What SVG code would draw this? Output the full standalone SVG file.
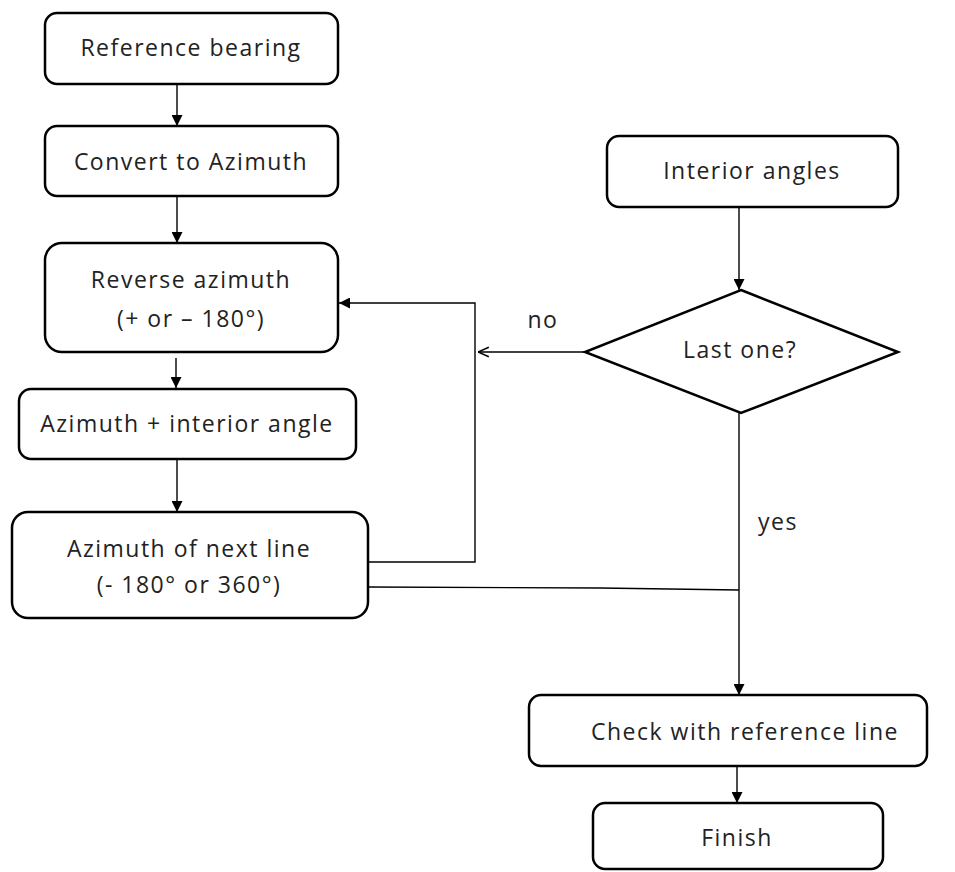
<svg xmlns="http://www.w3.org/2000/svg" width="955" height="872" viewBox="0 0 955 872">
<style>
.box{fill:#fff;stroke:#000;stroke-width:2.5}
.t{font-family:"Open Sans","Liberation Sans",sans-serif;font-size:23px;letter-spacing:1.5px;fill:#222;text-anchor:middle}
.c{fill:none;stroke:#000;stroke-width:1.4}
</style>
<defs>
<marker id="a" viewBox="0 0 10 10" refX="10" refY="5" markerWidth="11" markerHeight="11" markerUnits="userSpaceOnUse" orient="auto"><path d="M0,0L10,5L0,10z" fill="#000"/></marker>
<marker id="o" viewBox="0 0 10 10" refX="10" refY="5" markerWidth="12" markerHeight="12" markerUnits="userSpaceOnUse" orient="auto"><path d="M1,1L10,5L1,9" fill="none" stroke="#000" stroke-width="1.3"/></marker>
</defs>
<rect width="955" height="872" fill="#fff"/>
<g id="connectors">
<line class="c" x1="177" y1="84" x2="177" y2="126" marker-end="url(#a)"/>
<line class="c" x1="177" y1="196" x2="177" y2="243" marker-end="url(#a)"/>
<line class="c" x1="176" y1="358" x2="176" y2="388" marker-end="url(#a)"/>
<line class="c" x1="177" y1="459" x2="177" y2="512" marker-end="url(#a)"/>
<polyline class="c" points="368,562 475,562 475,303 339,303" marker-end="url(#a)"/>
<line class="c" x1="739" y1="207" x2="739" y2="290" marker-end="url(#a)"/>
<line class="c" x1="585" y1="352" x2="478" y2="352" marker-end="url(#o)"/>
<line class="c" x1="739" y1="413" x2="739" y2="695" marker-end="url(#a)"/>
<polyline class="c" points="368,587 600,588 739,590"/>
<line class="c" x1="737" y1="766" x2="737" y2="803" marker-end="url(#a)"/>
<text class="t" x="543" y="328">no</text>
<text class="t" x="778" y="530">yes</text>
</g>
<g id="n1"><rect class="box" x="45" y="13" width="293" height="71" rx="12"/><text class="t" x="191" y="56">Reference bearing</text></g>
<g id="n2"><rect class="box" x="45" y="126" width="293" height="70" rx="12"/><text class="t" x="191" y="170">Convert to Azimuth</text></g>
<g id="n3"><rect class="box" x="45" y="243" width="293" height="109" rx="17"/><text class="t" x="191" y="288">Reverse azimuth</text><text class="t" x="191" y="327">(+ or – 180°)</text></g>
<g id="n4"><rect class="box" x="19" y="389" width="337" height="70" rx="12"/><text class="t" x="187" y="432">Azimuth + interior angle</text></g>
<g id="n5"><rect class="box" x="12" y="512" width="356" height="106" rx="16"/><text class="t" x="189" y="557">Azimuth of next line</text><text class="t" x="189" y="593">(- 180° or 360°)</text></g>
<g id="n6"><rect class="box" x="607" y="136" width="291" height="71" rx="12"/><text class="t" x="752" y="179">Interior angles</text></g>
<g id="n7"><polygon class="box" points="741,290 898,352 741,413 585,352"/><text class="t" x="740" y="358">Last one?</text></g>
<g id="n8"><rect class="box" x="529" y="695" width="398" height="71" rx="12"/><text class="t" x="745" y="740">Check with reference line</text></g>
<g id="n9"><rect class="box" x="593" y="803" width="290" height="66" rx="12"/><text class="t" x="737" y="846">Finish</text></g>
</svg>
